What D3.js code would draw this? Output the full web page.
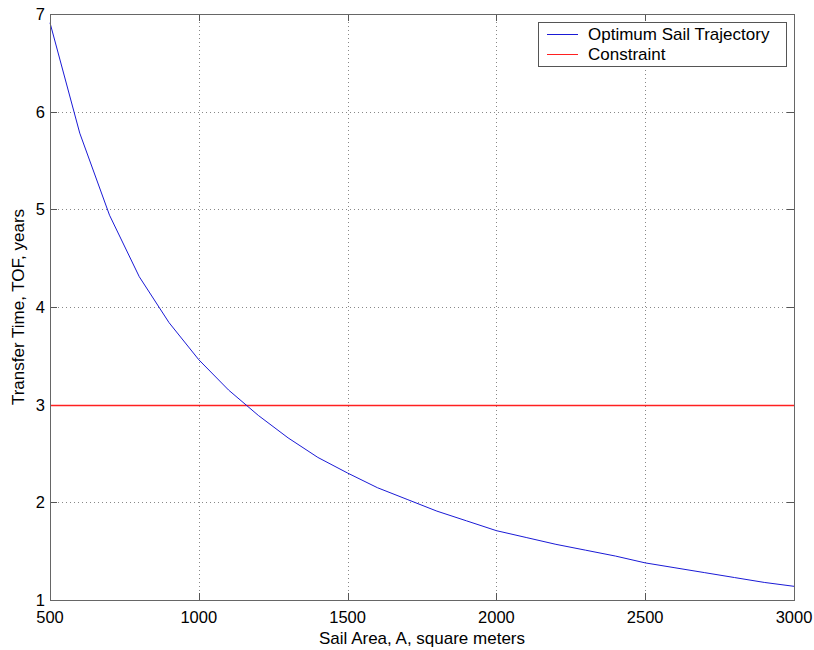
<!DOCTYPE html>
<html>
<head>
<meta charset="utf-8">
<script src="https://cdn.jsdelivr.net/npm/d3@7"></script>
<style>
  body { margin: 0; background: #fff; }
  text { font-family: "Liberation Sans", Arial, sans-serif; }
</style>
</head>
<body>
<div id="chart"></div>
<script>
// Sail area (m^2) sampled every 100
var sailArea = [500, 600, 700, 800, 900, 1000, 1100, 1200, 1300, 1400, 1500, 1600, 1700,
  1800, 1900, 2000, 2100, 2200, 2300, 2400, 2500, 2600, 2700, 2800, 2900, 3000];
// Transfer time, years
var transferTime = [6.91, 5.78, 4.94, 4.31, 3.84, 3.46, 3.15, 2.89, 2.66, 2.46, 2.30, 2.15, 2.03,
  1.91, 1.81, 1.71, 1.64, 1.57, 1.51, 1.45, 1.38, 1.33, 1.28, 1.23, 1.18, 1.14];
var constraintValue = [3];
var xTicks = [500, 1000, 1500, 2000, 2500, 3000];
var yTicks = [1, 2, 3, 4, 5, 6, 7];
var legendLabels = ["Optimum Sail Trajectory", "Constraint"];

var drawChart = function() {
  var width = 814, height = 650;
  // plot box edges (avoid the name "top", it is window.top)
  var pLeft = 50, pRight = 794, pTop = 14, pBottom = 600;
  var tickLen = 7;
  var blue = "#1a1ad6", red = "#ff2020";

  var svg = d3.select("#chart").append("svg")
    .attr("width", width)
    .attr("height", height);

  var x = d3.scaleLinear().domain([500, 3000]).range([pLeft, pRight]);
  var y = d3.scaleLinear().domain([1, 7]).range([pBottom, pTop]);

  // grid lines
  var grid = svg.append("g")
    .attr("stroke", "#888")
    .attr("stroke-width", 1)
    .attr("stroke-dasharray", "1,3");
  grid.selectAll("line.gx")
    .data(xTicks.slice(1, -1))
    .enter().append("line")
    .attr("x1", d => Math.round(x(d)) + 0.5).attr("x2", d => Math.round(x(d)) + 0.5)
    .attr("y1", pTop).attr("y2", pBottom);
  grid.selectAll("line.gy")
    .data(yTicks.slice(1, -1).filter(d => constraintValue.indexOf(d) < 0))
    .enter().append("line")
    .attr("x1", pLeft).attr("x2", pRight)
    .attr("y1", d => Math.round(y(d)) + 0.5).attr("y2", d => Math.round(y(d)) + 0.5);

  // inward ticks on all four sides
  var ticks = svg.append("g").attr("stroke", "#555").attr("stroke-width", 1);
  xTicks.forEach(function(d) {
    var px = Math.round(x(d)) + 0.5;
    ticks.append("line").attr("x1", px).attr("x2", px).attr("y1", pBottom).attr("y2", pBottom - tickLen);
    ticks.append("line").attr("x1", px).attr("x2", px).attr("y1", pTop).attr("y2", pTop + tickLen);
  });
  yTicks.forEach(function(d) {
    if (constraintValue.indexOf(d) >= 0) return;
    var py = Math.round(y(d)) + 0.5;
    ticks.append("line").attr("x1", pLeft).attr("x2", pLeft + tickLen).attr("y1", py).attr("y2", py);
    ticks.append("line").attr("x1", pRight).attr("x2", pRight - tickLen).attr("y1", py).attr("y2", py);
  });

  // constraint line
  svg.append("g").selectAll("line")
    .data(constraintValue)
    .enter().append("line")
    .attr("x1", pLeft + 1).attr("x2", pRight)
    .attr("y1", d => Math.round(y(d)) + 0.5).attr("y2", d => Math.round(y(d)) + 0.5)
    .style("stroke", red)
    .style("stroke-width", 1.3);

  // trajectory
  var line = d3.line()
    .x((d, i) => x(sailArea[i]))
    .y(d => y(d));
  svg.append("path")
    .datum(transferTime)
    .attr("d", line)
    .attr("fill", "none")
    .attr("stroke", blue)
    .attr("stroke-width", 1);

  // frame
  svg.append("rect")
    .attr("x", pLeft + 0.5).attr("y", pTop + 0.5)
    .attr("width", pRight - pLeft).attr("height", pBottom - pTop)
    .attr("fill", "none")
    .attr("stroke", "#666");

  // tick labels
  svg.selectAll("text.xt")
    .data(xTicks)
    .enter().append("text")
    .attr("x", d => x(d))
    .attr("y", 623)
    .attr("text-anchor", "middle")
    .attr("font-size", 16.5)
    .text(d => d);
  svg.selectAll("text.yt")
    .data(yTicks)
    .enter().append("text")
    .attr("x", 45)
    .attr("y", d => y(d) + 6)
    .attr("text-anchor", "end")
    .attr("font-size", 16.5)
    .text(d => d);

  // axis titles
  svg.append("text")
    .attr("x", (pLeft + pRight) / 2)
    .attr("y", 644)
    .attr("text-anchor", "middle")
    .attr("font-size", 17)
    .text("Sail Area, A, square meters");
  svg.append("text")
    .attr("transform", "translate(24," + ((pTop + pBottom) / 2) + ") rotate(-90)")
    .attr("text-anchor", "middle")
    .attr("font-size", 17)
    .text("Transfer Time, TOF, years");

  // legend
  var legend = svg.append("g");
  legend.append("rect")
    .attr("x", 538.5).attr("y", 22.5)
    .attr("width", 248).attr("height", 44)
    .attr("fill", "#fff")
    .attr("stroke", "#555");
  var legendColors = [blue, red];
  legendLabels.forEach(function(label, i) {
    var cy = 34 + i * 20;
    legend.append("line")
      .attr("x1", 547).attr("x2", 578)
      .attr("y1", cy + 0.5).attr("y2", cy + 0.5)
      .attr("stroke", legendColors[i]);
    legend.append("text")
      .attr("x", 588).attr("y", cy + 6)
      .attr("font-size", 17)
      .text(label);
  });
};

drawChart();
</script>
</body>
</html>
